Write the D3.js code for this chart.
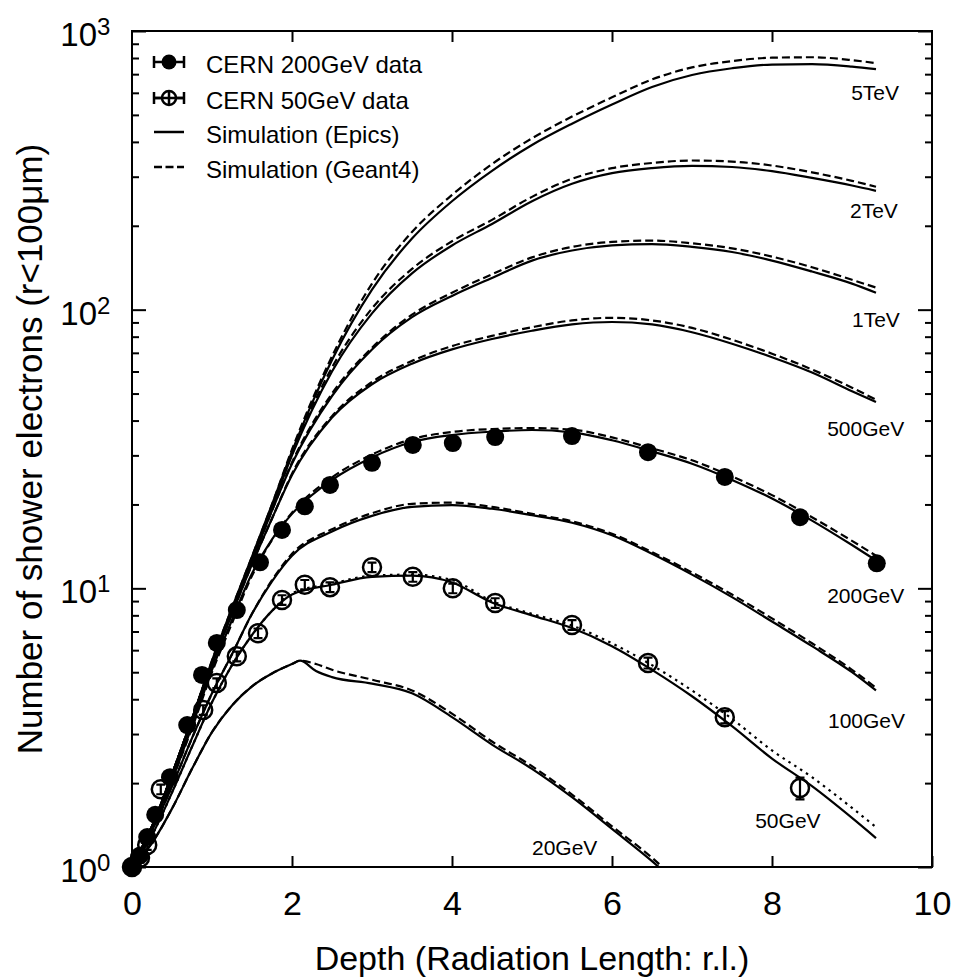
<!DOCTYPE html>
<meta charset="utf-8">
<script src="https://d3js.org/d3.v7.min.js"></script>
<style>
	body{
		margin:0;
		background:#fff;
	}
	svg text{
		font-family:'Liberation Sans', Arial, Helvetica, sans-serif;
		fill:#000;
	}
</style>
<div id="chart"></div>
<script>
	// depth grid (radiation length) of the simulated curves
	var depth = [0,0.25,0.5,0.75,1,1.25,1.5,1.75,2,2.5,3,3.5,4,4.5,5,5.5,6,6.5,7,7.5,8,8.5,9,9.3]

	var epics5TeV = [1,1.4,2.15,3.4,5.5,8.5,13,20,31,66,118,180,245,315,390,465,545,630,695,735,758,760,745,730]
	var g4_5TeV   = [1,1.4,2.15,3.4,5.5,8.5,13,20,31.5,68,124,190,258,333,412,493,578,670,740,780,802,805,786,767]
	var epics2TeV = [1,1.4,2.15,3.4,5.4,8.3,12.8,19.5,30,60,97,135,170,203,245,283,309,322,328,325,314,297,279,267]
	var g4_2TeV   = [1,1.4,2.15,3.4,5.4,8.3,12.8,19.5,30.5,62,101,140,176,210,254,295,322,336,343,340,329,311,290,276]
	var epics1TeV = [1,1.4,2.15,3.4,5.4,8.2,12.5,19,28,49,72,94,112,130,150,163,170,172,168,161,150,137,124,115]
	var g4_1TeV   = [1,1.4,2.15,3.4,5.4,8.2,12.5,19,28.3,50,73,96,115,134,154,168,175,177,173,166,155,142,128,120]
	var epics500  = [1,1.4,2.1,3.3,5.3,8.1,12.2,17.8,25.5,41,54,64,72,78.5,84,88.5,90.3,88.5,83,75.5,67.5,59.5,51,46.6]
	var g4_500    = [1,1.4,2.1,3.3,5.3,8.1,12.2,17.8,25.8,41.5,55,65.5,74,80.5,86.5,91.5,93.5,91.5,86,78,69.5,61,52.5,47.5]
	var epics200  = [1,1.38,2.05,3.2,5.1,7.7,11.3,15,18.5,24.5,29.5,33.5,35.5,36.5,37,36.3,34,31,28,24.5,21,17.5,14.3,12.6]
	var g4_200    = [1,1.38,2.05,3.15,5,7.5,11.1,14.9,18.7,25,30.2,34.3,36.4,37.3,37.6,37.1,34.8,31.8,28.8,25.2,21.6,18,14.8,13.1]
	var epics100  = [1,1.35,1.95,2.9,4.2,5.8,8.1,10.6,13.1,16,18.2,19.6,19.9,19.3,18.3,17.2,15.5,13.3,11.2,9.3,7.6,6.2,5,4.3]
	var g4_100    = [1,1.35,1.95,2.9,4.2,5.8,8.1,10.7,13.3,16.3,18.6,20.1,20.3,19.6,18.5,17.4,15.7,13.5,11.4,9.5,7.8,6.35,5.1,4.4]
	var epics50   = [1,1.3,1.85,2.7,3.9,5.3,6.8,8.3,9.5,10.3,11,11.1,10.5,8.9,8,7.2,6.2,5.1,4.1,3.2,2.45,1.95,1.5,1.27]
	var g4_50     = [1,1.3,1.85,2.7,3.9,5.3,6.8,8.3,9.6,10.4,11.1,11.2,10.7,9,8.1,7.35,6.35,5.3,4.3,3.4,2.62,2.1,1.63,1.39]

	// 20GeV has its own grid (sharp peak at 2.1 r.l., leaves the frame near 6.6)
	var depth20  = [0,0.25,0.5,0.75,1,1.25,1.5,1.75,2,2.1,2.3,2.5,3,3.5,4,4.5,5,5.5,6,6.5,6.8]
	var epics20  = [1,1.22,1.62,2.25,3.05,3.8,4.45,4.95,5.35,5.5,5.05,4.8,4.55,4.2,3.45,2.75,2.25,1.78,1.37,1.05,0.88]
	var g4_20    = [1,1.22,1.62,2.25,3.05,3.8,4.45,4.95,5.35,5.5,5.35,5.1,4.7,4.3,3.55,2.82,2.3,1.82,1.4,1.08,0.9]

	// CERN beam data
	var data200Depth = [0,0.1,0.19,0.29,0.475,0.69,0.875,1.06,1.31,1.6,1.875,2.16,2.475,3,3.51,4.01,4.54,5.5,6.45,7.41,8.35,9.31]
	var data200N     = [1,1.1,1.28,1.54,2.1,3.23,4.89,6.37,8.36,12.4,16.2,19.7,23.5,28.2,32.7,33.2,34.9,35.2,30.8,25.1,18,12.3]
	var data50Depth  = [0,0.1,0.19,0.36,0.89,1.06,1.31,1.575,1.875,2.16,2.475,3,3.51,4.01,4.54,5.5,6.45,7.41,8.35]
	var data50N      = [1,1.08,1.2,1.9,3.66,4.57,5.7,6.9,9.08,10.3,10.1,11.9,11,10,8.86,7.39,5.4,3.45,1.92]
	var data50Err    = [0.04,0.04,0.04,0.04,0.04,0.04,0.04,0.04,0.04,0.04,0.04,0.04,0.04,0.04,0.04,0.04,0.045,0.05,0.09]

	var energyLabels = ["5TeV","2TeV","1TeV","500GeV","200GeV","100GeV","50GeV","20GeV"]
	var labelDepth   = [8.99,8.975,9.0,8.69,8.69,8.7,7.79,5.0]
	var labelN       = [565,213,86.7,35.2,8.86,3.15,1.38,1.104]

	var legendLabels = ["CERN 200GeV data","CERN 50GeV data","Simulation (Epics)","Simulation (Geant4)"]

	var w = 958
	var h = 977
	var svg = d3.select("#chart").append("svg").attr("width",w).attr("height",h)

	var x = d3.scaleLinear().domain([0,10]).range([132,932])
	var y = d3.scaleLog().domain([1,1000]).range([867,31])

	var decades = [1,10,100,1000]
	var minors = []
	decades.slice(0,3).forEach(function(d){
		for(var k=2;k<10;k++){ minors.push(d*k) }
	})

	// clip for curves
	svg.append("clipPath").attr("id","plotClip")
		.append("rect").attr("x",132).attr("y",31).attr("width",800).attr("height",836)

	// axes (ticks drawn inward on all four sides)
	function tidy(g){ g.select(".domain").remove(); g.selectAll("line").attr("stroke","#000").attr("stroke-width",2) }

	svg.append("g").attr("transform","translate(0,867)")
		.call(d3.axisBottom(x).tickValues([0,2,4,6,8,10]).tickSizeInner(-11).tickSizeOuter(0).tickPadding(24).tickFormat(d3.format("d")))
		.call(tidy)
		.selectAll("text").style("font-size","34px")

	svg.append("g").attr("transform","translate(0,31)")
		.call(d3.axisTop(x).tickValues([2,4,6,8]).tickSizeInner(-11).tickSizeOuter(0).tickFormat(""))
		.call(tidy)

	svg.append("g").attr("transform","translate(132,0)")
		.call(d3.axisLeft(y).tickValues(decades).tickSizeInner(-14).tickSizeOuter(0).tickFormat(""))
		.call(tidy)
	svg.append("g").attr("transform","translate(132,0)")
		.call(d3.axisLeft(y).tickValues(minors).tickSizeInner(-7).tickSizeOuter(0).tickFormat(""))
		.call(tidy)
	svg.append("g").attr("transform","translate(932,0)")
		.call(d3.axisRight(y).tickValues(decades).tickSizeInner(-14).tickSizeOuter(0).tickFormat(""))
		.call(tidy)
	svg.append("g").attr("transform","translate(932,0)")
		.call(d3.axisRight(y).tickValues(minors).tickSizeInner(-7).tickSizeOuter(0).tickFormat(""))
		.call(tidy)

	// 10^n labels
	decades.forEach(function(d,i){
		svg.append("text").attr("x",97).attr("y",y(d)+15)
			.attr("text-anchor","end").style("font-size","33px").text("10")
		svg.append("text").attr("x",97).attr("y",y(d)+4)
			.attr("text-anchor","start").style("font-size","24px").text(i)
	})

	// frame
	svg.append("rect").attr("x",132).attr("y",31).attr("width",800).attr("height",836)
		.attr("fill","none").attr("stroke","#000").attr("stroke-width",2)

	// axis titles
	svg.append("text").attr("x",532).attr("y",970).attr("text-anchor","middle")
		.style("font-size","34px").text("Depth (Radiation Length: r.l.)")
	svg.append("text").attr("transform","translate(42,449) rotate(-90)").attr("text-anchor","middle")
		.style("font-size","35px").text("Number of shower electrons (r<100\u03bcm)")

	// simulation curves
	var curves = [
		{d:depth, v:epics5TeV, dash:null}, {d:depth, v:g4_5TeV, dash:"8,4"},
		{d:depth, v:epics2TeV, dash:null}, {d:depth, v:g4_2TeV, dash:"8,4"},
		{d:depth, v:epics1TeV, dash:null}, {d:depth, v:g4_1TeV, dash:"8,4"},
		{d:depth, v:epics500, dash:null},  {d:depth, v:g4_500, dash:"8,4"},
		{d:depth, v:epics200, dash:null},  {d:depth, v:g4_200, dash:"8,4"},
		{d:depth, v:epics100, dash:null},  {d:depth, v:g4_100, dash:"8,4"},
		{d:depth, v:epics50, dash:null},   {d:depth, v:g4_50, dash:"2.5,4.5"},
		{d:depth20, v:epics20, dash:null}, {d:depth20, v:g4_20, dash:"8,4"}
	]
	var line = d3.line().x(function(p){return x(p[0])}).y(function(p){return y(p[1])}).curve(d3.curveMonotoneX)

	svg.append("g").attr("clip-path","url(#plotClip)")
		.selectAll("path").data(curves).join("path")
		.attr("d",function(c){ return line(c.d.map(function(t,i){return [t,c.v[i]]})) })
		.attr("fill","none").attr("stroke","#000").attr("stroke-width",2.2)
		.attr("stroke-dasharray",function(c){return c.dash})

	// energy labels
	svg.append("g").selectAll("text").data(energyLabels).join("text")
		.attr("x",function(d,i){return x(labelDepth[i])})
		.attr("y",function(d,i){return y(labelN[i])})
		.style("font-size","21px").text(function(d){return d})

	// 50GeV data: open circles with vertical error bars
	var g50 = svg.append("g").selectAll("g").data(data50Depth).join("g")
	g50.append("circle").attr("cx",function(d){return x(d)}).attr("cy",function(d,i){return y(data50N[i])})
		.attr("r",9).attr("fill","none").attr("stroke","#000").attr("stroke-width",2.5)
	g50.append("path").attr("d",function(d,i){
			var cx = x(d), v = data50N[i], e = data50Err[i]
			var y0 = y(v*(1-e)), y1 = y(v*(1+e))
			return "M"+cx+","+y0+"V"+y1+"M"+(cx-4.5)+","+y0+"H"+(cx+4.5)+"M"+(cx-4.5)+","+y1+"H"+(cx+4.5)
		})
		.attr("fill","none").attr("stroke","#000").attr("stroke-width",2.2)

	// 200GeV data: filled circles
	svg.append("g").selectAll("circle").data(data200Depth).join("circle")
		.attr("cx",function(d){return x(d)}).attr("cy",function(d,i){return y(data200N[i])})
		.attr("r",9).attr("fill","#000")

	// legend
	var leg = svg.append("g").attr("transform","translate(169,0)")
	var rowY = [62,98,132,167]
	leg.selectAll("text").data(legendLabels).join("text")
		.attr("x",37).attr("y",function(d,i){return rowY[i]+11})
		.style("font-size","24px").text(function(d){return d})
	// error-bar markers
	;[0,1].forEach(function(i){
		leg.append("path").attr("d","M-15,"+rowY[i]+"H15M-15,"+(rowY[i]-6)+"V"+(rowY[i]+6)+"M15,"+(rowY[i]-6)+"V"+(rowY[i]+6))
			.attr("stroke","#000").attr("stroke-width",2.5).attr("fill","none")
	})
	leg.append("circle").attr("cx",0).attr("cy",rowY[0]).attr("r",7.5).attr("fill","#000")
	leg.append("circle").attr("cx",0).attr("cy",rowY[1]).attr("r",7).attr("fill","#fff").attr("stroke","#000").attr("stroke-width",2.5)
	leg.append("path").attr("d","M-15,"+rowY[1]+"H15M0,"+(rowY[1]-7)+"V"+(rowY[1]+7)).attr("stroke","#000").attr("stroke-width",2.5)
	leg.append("line").attr("x1",-15).attr("x2",15).attr("y1",rowY[2]).attr("y2",rowY[2]).attr("stroke","#000").attr("stroke-width",2.5)
	leg.append("line").attr("x1",-15).attr("x2",15).attr("y1",rowY[3]).attr("y2",rowY[3]).attr("stroke","#000").attr("stroke-width",2.5)
		.attr("stroke-dasharray","8,3.5")
</script>
